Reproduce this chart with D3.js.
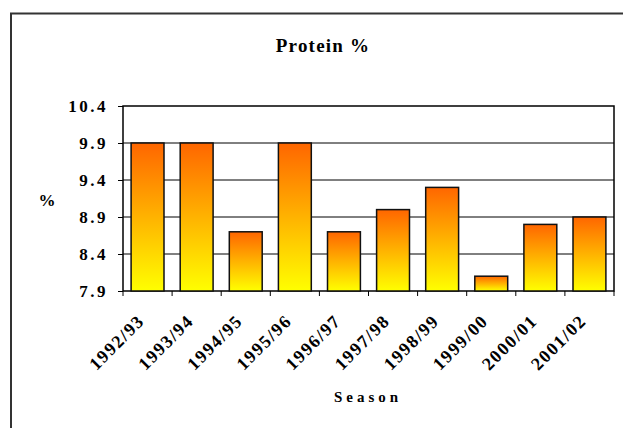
<!DOCTYPE html>
<html>
<head>
<meta charset="utf-8">
<script src="https://cdn.jsdelivr.net/npm/d3@7"></script>
<style>
  html, body { margin: 0; padding: 0; background: #fff; }
  svg { display: block; }
  text { font-family: "Liberation Serif", "Times New Roman", serif; font-weight: bold; fill: #000; }
</style>
</head>
<body>
<svg id="chart" width="623" height="428"></svg>
<script>
// Protein content by season
const seasons = ["1992/93", "1993/94", "1994/95", "1995/96", "1996/97",
                 "1997/98", "1998/99", "1999/00", "2000/01", "2001/02"];
const protein = [9.9, 9.9, 8.7, 9.9, 8.7, 9.0, 9.3, 8.1, 8.8, 8.9];
const yTicks = [7.9, 8.4, 8.9, 9.4, 9.9, 10.4];

const svg = d3.select("#chart");
const plot = { left: 123, top: 106, right: 614, bottom: 291 };

// outer frame (runs off the right and bottom edges)
svg.append("rect")
  .attr("x", 11).attr("y", 13.5)
  .attr("width", 700).attr("height", 600)
  .attr("fill", "#fff")
  .attr("stroke", "#333").attr("stroke-width", 2);

const x = d3.scaleBand()
  .domain(seasons)
  .range([plot.left, plot.right])
  .paddingInner(0.33).paddingOuter(0.165);

const y = d3.scaleLinear()
  .domain([7.9, 10.4])
  .range([plot.bottom, plot.top]);

// gradient fill for the bars: orange at top, yellow at bottom
const defs = svg.append("defs");
const grad = defs.append("linearGradient")
  .attr("id", "barFill")
  .attr("x1", 0).attr("y1", 0).attr("x2", 0).attr("y2", 1);
grad.append("stop").attr("offset", "0%").attr("stop-color", "#ff6600");
grad.append("stop").attr("offset", "100%").attr("stop-color", "#ffff00");

// gridlines
svg.append("g")
  .selectAll("line")
  .data(yTicks.slice(1, -1))
  .join("line")
  .attr("x1", plot.left).attr("x2", plot.right)
  .attr("y1", d => y(d)).attr("y2", d => y(d))
  .attr("stroke", "#000").attr("stroke-width", 1);

// plot border
svg.append("rect")
  .attr("x", plot.left).attr("y", plot.top)
  .attr("width", plot.right - plot.left)
  .attr("height", plot.bottom - plot.top)
  .attr("fill", "none")
  .attr("stroke", "#000").attr("stroke-width", 1.5);

// bars
svg.append("g")
  .selectAll("rect")
  .data(seasons.map((s, i) => ({ s, v: protein[i] })))
  .join("rect")
  .attr("x", d => x(d.s))
  .attr("y", d => y(d.v))
  .attr("width", x.bandwidth())
  .attr("height", d => y(7.9) - y(d.v))
  .attr("fill", "url(#barFill)")
  .attr("stroke", "#111").attr("stroke-width", 1.5);

// y axis: tick marks from the axis generator, labels set in bold serif
const gy = svg.append("g")
  .attr("transform", `translate(${plot.left},0)`)
  .call(d3.axisLeft(y).tickValues(yTicks).tickFormat("").tickSize(5));
gy.select(".domain").remove();
gy.selectAll(".tick line").attr("stroke", "#000");

svg.append("g")
  .selectAll("text")
  .data(yTicks)
  .join("text")
  .attr("x", 108)
  .attr("y", d => y(d))
  .attr("dy", "0.35em")
  .attr("text-anchor", "end")
  .style("font-size", "17px")
  .style("letter-spacing", "2.5px")
  .text(d => d3.format(".1f")(d));

// x axis: tick marks sit between categories
const bandStep = x.step();
const boundaries = d3.range(seasons.length + 1).map(i => plot.left + i * bandStep);
svg.append("g")
  .selectAll("line")
  .data(boundaries)
  .join("line")
  .attr("x1", d => d).attr("x2", d => d)
  .attr("y1", plot.bottom).attr("y2", plot.bottom + 5)
  .attr("stroke", "#000");

svg.append("g")
  .selectAll("text")
  .data(seasons)
  .join("text")
  .attr("transform", d => `translate(${x(d) + x.bandwidth() / 2 - 2},${plot.bottom + 31}) rotate(-45)`)
  .attr("text-anchor", "end")
  .style("font-size", "18px")
  .style("letter-spacing", "1.5px")
  .text(d => d);

// titles
svg.append("text")
  .attr("x", 323).attr("y", 52)
  .attr("text-anchor", "middle")
  .style("font-size", "19px")
  .style("letter-spacing", "1.2px")
  .text("Protein %");

svg.append("text")
  .attr("x", 368).attr("y", 402)
  .attr("text-anchor", "middle")
  .style("font-size", "15px")
  .style("letter-spacing", "4px")
  .text("Season");

svg.append("text")
  .attr("x", 47).attr("y", 206)
  .attr("text-anchor", "middle")
  .style("font-size", "17px")
  .text("%");
</script>
</body>
</html>
